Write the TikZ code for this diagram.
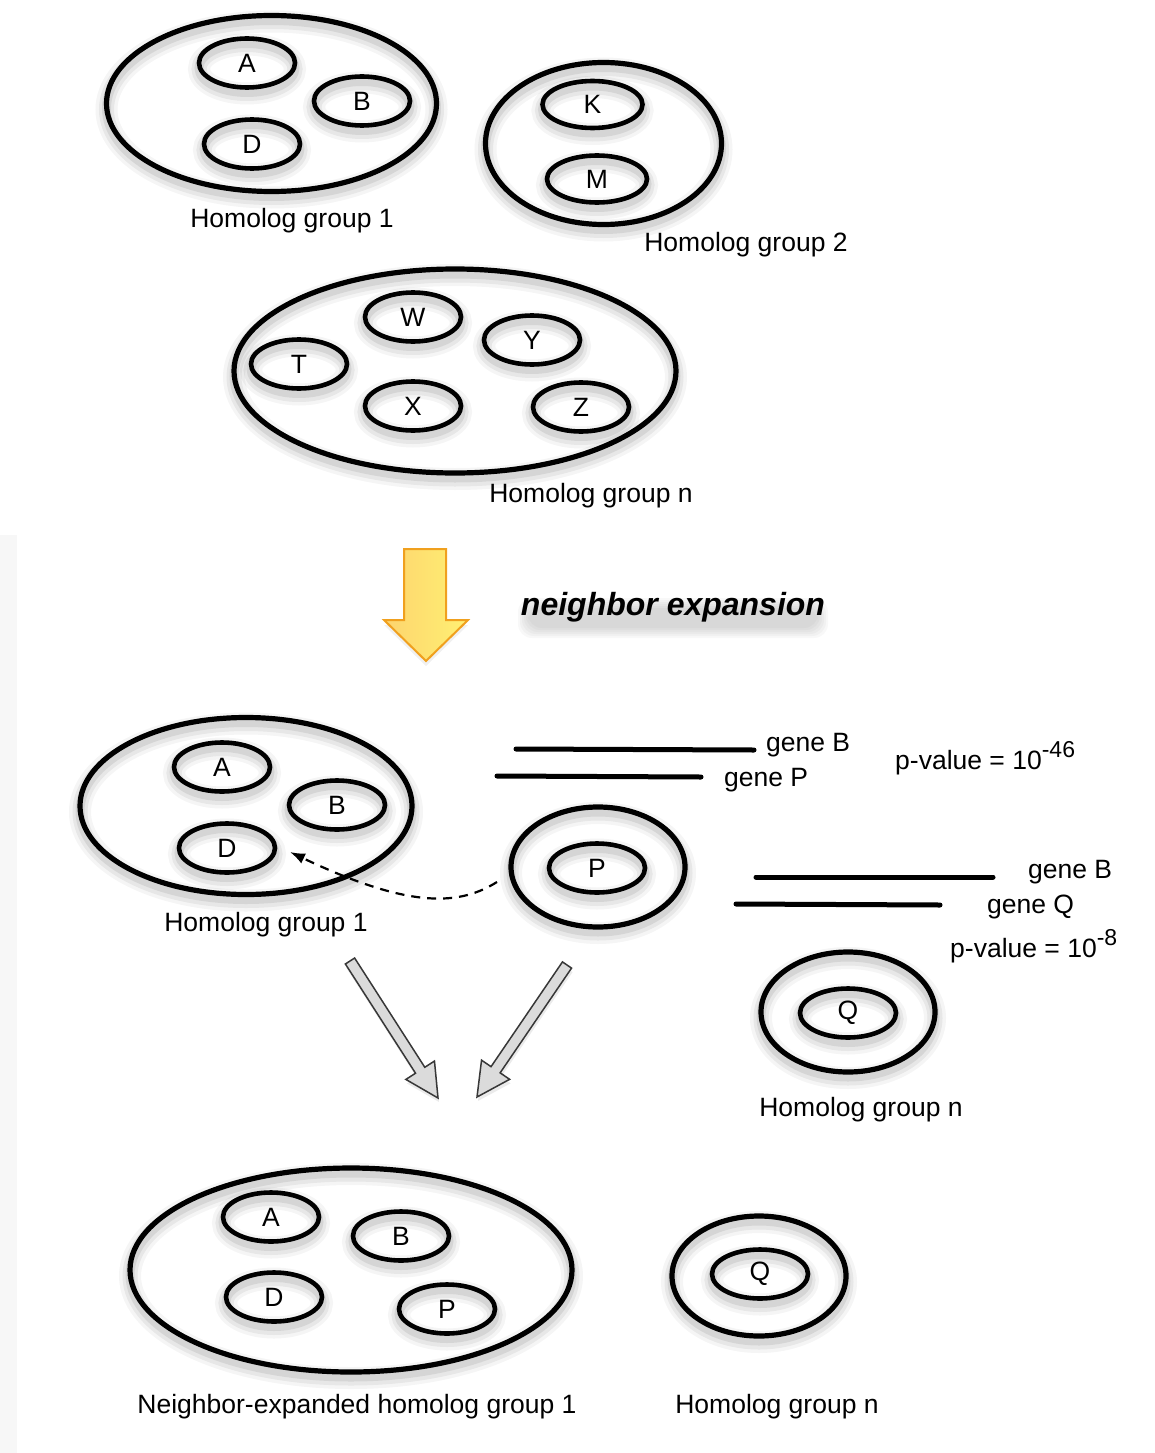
\documentclass[tikz,border=0pt]{standalone}
\usepackage{fontspec}
\setmainfont{Liberation Sans}
\usetikzlibrary{shapes.geometric,calc,arrows.meta}
\definecolor{yelL}{RGB}{253,212,110}
\definecolor{yelR}{RGB}{255,240,115}
\definecolor{yelO}{RGB}{240,160,30}
\begin{document}
\begin{tikzpicture}[x=1pt,y=-1pt,
  shadowed/.style={
    preaction={draw=black,draw opacity=0.04,line width=22pt,transform canvas={yshift=-6pt}},
    preaction={draw=black,draw opacity=0.06,line width=15pt,transform canvas={yshift=-6pt}},
    preaction={draw=black,draw opacity=0.08,line width=9pt,transform canvas={yshift=-5pt}}},
  grp/.style={ellipse,draw,line width=5.2pt,inner sep=0pt,shadowed},
  gene/.style={ellipse,draw,line width=4.6pt,inner sep=0pt,minimum width=96pt,minimum height=49pt,shadowed,font=\fontsize{26.5}{30}\selectfont},
  lbl/.style={font=\fontsize{26.5}{30}\selectfont,inner sep=0pt,anchor=base},
  gl/.style={line width=5pt,line cap=round},
  dsh/.style={line width=2.2pt,dash pattern=on 9pt off 7pt,-{Latex[length=15pt,width=11pt]}},
  garrow/.style={fill=black!14,draw=black!78,line width=1.5pt,line join=miter,
    preaction={fill=black,fill opacity=0.08,transform canvas={yshift=-4pt,xshift=1pt}}},
  nefont/.style={font=\fontsize{32}{36}\selectfont\bfseries\itshape}
]
\useasboundingbox (0,0) rectangle (1154,1453);
\fill[black!3] (0,535) rectangle (17,1453);

% ---------- top: homolog group 1
\node[grp,minimum width=330pt,minimum height=176pt] (g1) at (271.5,103.5) {};
\node[gene] (a1) at (247,63) {A};
\node[gene] (b1) at (362,101) {B};
\node[gene] (d1) at (252,144) {D};
\node[lbl] (l1) at (292,227) {Homolog group 1};

% ---------- top: homolog group 2
\node[grp,minimum width=236pt,minimum height=162pt] (g2) at (603.5,143.5) {};
\node[gene,minimum width=100pt,minimum height=47pt] (k2) at (592.5,104.5) {K};
\node[gene,minimum width=100pt,minimum height=47pt] (m2) at (597,179) {M};
\node[lbl] (l2) at (746,251) {Homolog group 2};

% ---------- top: homolog group n
\node[grp,minimum width=442pt,minimum height=204pt] (gn) at (455,371) {};
\node[gene] (w3) at (413,317) {W};
\node[gene] (y3) at (532,340) {Y};
\node[gene] (t3) at (299,364) {T};
\node[gene] (x3) at (413,406) {X};
\node[gene] (z3) at (581,407) {Z};
\node[lbl] (l3) at (591,502) {Homolog group n};

% ---------- yellow arrow
\path[left color=yelL,right color=yelR,draw=yelO,line width=2pt,line join=miter,
  preaction={fill=black,fill opacity=0.06,transform canvas={yshift=-5pt}}]
  (404,549) -- (446,549) -- (446,620) -- (468,620) -- (426,661) -- (384,620) -- (404,620) -- cycle;

% ---------- neighbor expansion text with soft shadow
\foreach \g in {0,2,4,6,8,10}{
  \fill[black,fill opacity=0.028,rounded corners=14pt]
    (528-\g,608-\g) rectangle (818+\g,628+\g);
}
\node[nefont,inner sep=0pt] (ne) at (673,607) {neighbor expansion};

% ---------- middle: homolog group 1
\node[grp,minimum width=332pt,minimum height=177pt] (g4) at (246,806) {};
\node[gene] (a4) at (222,767) {A};
\node[gene] (b4) at (337,805) {B};
\node[gene] (d4) at (227,848) {D};
\node[lbl] (l4) at (266,931) {Homolog group 1};

% ---------- gene alignments
\coordinate (s1a) at (516,749); \coordinate (s1b) at (754,750);
\coordinate (s2a) at (497,776); \coordinate (s2b) at (701,777);
\draw[gl] (s1a) -- (s1b);
\draw[gl] (s2a) -- (s2b);
\node[lbl,anchor=base west] (gb1) at (766,751) {gene B};
\node[lbl,anchor=base west] (gp1) at (724,786) {gene P};
\node[lbl,anchor=base west] (pv1) at (895,769) {p-value = 10\raisebox{12pt}{\fontsize{23}{25}\selectfont -46}};

% ---------- P group
\node[grp,minimum width=174pt,minimum height=120pt] (pg) at (598,867) {};
\node[gene] (p5) at (597,868) {P};

\coordinate (ds) at (497,882);
\coordinate (de) at (290,852);
\draw[dsh] (ds) .. controls (460,905) and (412,910) .. (de);

\coordinate (s3a) at (756,877); \coordinate (s3b) at (993,877);
\coordinate (s4a) at (736,904); \coordinate (s4b) at (940,905);
\draw[gl] (s3a) -- (s3b);
\draw[gl] (s4a) -- (s4b);
\node[lbl,anchor=base west] (gb2) at (1028,878) {gene B};
\node[lbl,anchor=base west] (gq2) at (987,913) {gene Q};
\node[lbl,anchor=base west] (pv2) at (950,957) {p-value = 10\raisebox{12pt}{\fontsize{23}{25}\selectfont -8}};

% ---------- Q group (middle)
\node[grp,minimum width=174pt,minimum height=120pt] (qg) at (848,1012) {};
\node[gene] (q6) at (848,1013) {Q};
\node[lbl] (l6) at (861,1116) {Homolog group n};

% ---------- grey arrows
\coordinate (t1) at (350,961); \coordinate (p1) at (438,1098);
\coordinate (h1) at ($(p1)!33pt!(t1)$);
\draw[garrow] ($(t1)!5.5pt!90:(p1)$) -- ($(h1)!5.5pt!90:(p1)$) -- ($(h1)!17pt!90:(p1)$) -- (p1)
  -- ($(h1)!17pt!-90:(p1)$) -- ($(h1)!5.5pt!-90:(p1)$) -- ($(t1)!5.5pt!-90:(p1)$) -- cycle;
\coordinate (t2) at (567,965); \coordinate (p2) at (477,1097);
\coordinate (h2) at ($(p2)!33pt!(t2)$);
\draw[garrow] ($(t2)!5.5pt!90:(p2)$) -- ($(h2)!5.5pt!90:(p2)$) -- ($(h2)!17pt!90:(p2)$) -- (p2)
  -- ($(h2)!17pt!-90:(p2)$) -- ($(h2)!5.5pt!-90:(p2)$) -- ($(t2)!5.5pt!-90:(p2)$) -- cycle;

% ---------- bottom: neighbor-expanded group
\node[grp,minimum width=442pt,minimum height=204pt] (g7) at (351,1270) {};
\node[gene] (a7) at (271,1217) {A};
\node[gene] (b7) at (401,1236) {B};
\node[gene] (d7) at (274,1297) {D};
\node[gene] (p7) at (447,1309) {P};
\node[lbl] (l7) at (357,1413) {Neighbor-expanded homolog group 1};

% ---------- bottom: Q group
\node[grp,minimum width=174pt,minimum height=120pt] (qg8) at (759,1276) {};
\node[gene] (q8) at (760,1274) {Q};
\node[lbl] (l8) at (777,1413) {Homolog group n};
\end{tikzpicture}
\end{document}
